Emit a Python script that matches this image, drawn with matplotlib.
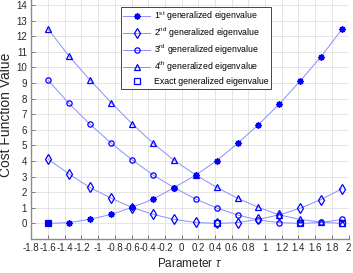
import matplotlib
matplotlib.use("Agg")
import matplotlib.pyplot as plt
from matplotlib.lines import Line2D

plt.rcParams['font.family'] = ['Liberation Sans', 'DejaVu Sans']
plt.rcParams['mathtext.fontset'] = 'custom'
plt.rcParams['mathtext.rm'] = 'Liberation Sans'
plt.rcParams['mathtext.it'] = 'Liberation Sans:italic'
plt.rcParams['mathtext.bf'] = 'Liberation Sans:bold'
plt.rcParams['axes.unicode_minus'] = False

# ---- data ----
tau = [-1.6, -1.35, -1.10, -0.84, -0.59, -0.34, -0.09, 0.17, 0.42, 0.67, 0.92, 1.17, 1.42, 1.67, 1.92]
eig1 = [0.0, 0.05, 0.26, 0.58, 1.03, 1.56, 2.29, 3.10, 4.02, 5.13, 6.33, 7.65, 9.13, 10.69, 12.44]
eig2 = [4.13, 3.17, 2.31, 1.61, 1.01, 0.58, 0.26, 0.06, 0.0, 0.05, 0.26, 0.55, 0.97, 1.53, 2.22]
eig3 = [9.19, 7.70, 6.37, 5.13, 4.06, 3.10, 2.29, 1.56, 0.99, 0.54, 0.22, 0.05, 0.0, 0.06, 0.26]
eig4 = [12.46, 10.73, 9.21, 7.72, 6.37, 5.13, 4.04, 3.10, 2.31, 1.61, 1.03, 0.54, 0.26, 0.08, 0.0]
exact_tau = [-1.6, 0.42, 1.42, 1.92]
exact_val = [0.0, 0.0, 0.0, 0.0]

labels = [r'1$^{\rm st}$ generalized eigenvalue',
          r'2$^{\rm nd}$ generalized eigenvalue',
          r'3$^{\rm rd}$ generalized eigenvalue',
          r'4$^{\rm th}$ generalized eigenvalue',
          'Exact generalized eigenvalue']
xticks = [-1.8, -1.6, -1.4, -1.2, -1, -0.8, -0.6, -0.4, -0.2, 0, 0.2, 0.4, 0.6, 0.8, 1, 1.2, 1.4, 1.6, 1.8, 2]
yticks = list(range(0, 15))

blue = (0, 0, 1)
light = (0.55, 0.55, 1.0)

fig = plt.figure(figsize=(3.53, 2.73), dpi=100)
ax = fig.add_axes([0.0887, 0.1245, 0.9875 - 0.0887, 1.0 - 0.1245])

styles = [
    dict(marker=(8, 2, 0), ms=4.5, mfc=blue, mec=blue, mew=1.1),
    dict(marker='d', ms=4.6, mfc='none', mec=blue, mew=0.9),
    dict(marker='o', ms=3.8, mfc='none', mec=blue, mew=0.9),
    dict(marker='^', ms=4.3, mfc='none', mec=blue, mew=0.9),
]
handles = []
for vals, st in zip([eig1, eig2, eig3, eig4], styles):
    ax.plot(tau, vals, color=light, lw=0.7, zorder=2)
    ax.plot(tau, vals, ls='none', zorder=3, **st)
    handles.append(Line2D([], [], color=light, lw=0.7, **st))
sq = dict(marker='s', ms=5.0, mfc='none', mec=blue, mew=0.9)
ax.plot(exact_tau, exact_val, ls='none', zorder=4, **sq)
handles.append(Line2D([], [], ls='none', **sq))

ax.set_xlim(-1.8, 2.0)
ax.set_ylim(-1, 14.32)
ax.set_xticks(xticks)
ax.set_xticklabels(['%g' % t for t in xticks])
ax.set_yticks(yticks)
ax.grid(True, color=(0.88, 0.88, 0.88), lw=0.6)
ax.set_axisbelow(True)
for s in ['top', 'right']:
    ax.spines[s].set_visible(False)
for s in ['left', 'bottom']:
    ax.spines[s].set_color((0.55, 0.55, 0.55))
    ax.spines[s].set_linewidth(1.0)
ax.tick_params(direction='in', length=3, width=0.6, color=(0.4, 0.4, 0.4),
               labelsize=7, labelcolor=(0.15, 0.15, 0.15), pad=3)

ax.set_ylabel('Cost Function Value', fontsize=10, color=(0.15, 0.15, 0.15))
ax.yaxis.set_label_coords(-0.0585, 0.52)
ax.set_xlabel(r'Parameter $\tau$', fontsize=8.5, color=(0.15, 0.15, 0.15), labelpad=3)

leg = ax.legend(handles, labels, loc='upper left', bbox_to_anchor=(0.282, 0.971),
                fontsize=6.3, frameon=True, fancybox=False, edgecolor=(0.15, 0.15, 0.15),
                framealpha=1, borderpad=0.3, labelspacing=0.3, handlelength=3.0,
                handletextpad=0.5, borderaxespad=0)
leg.get_frame().set_linewidth(0.6)

fig.savefig('out.png', dpi=100)
